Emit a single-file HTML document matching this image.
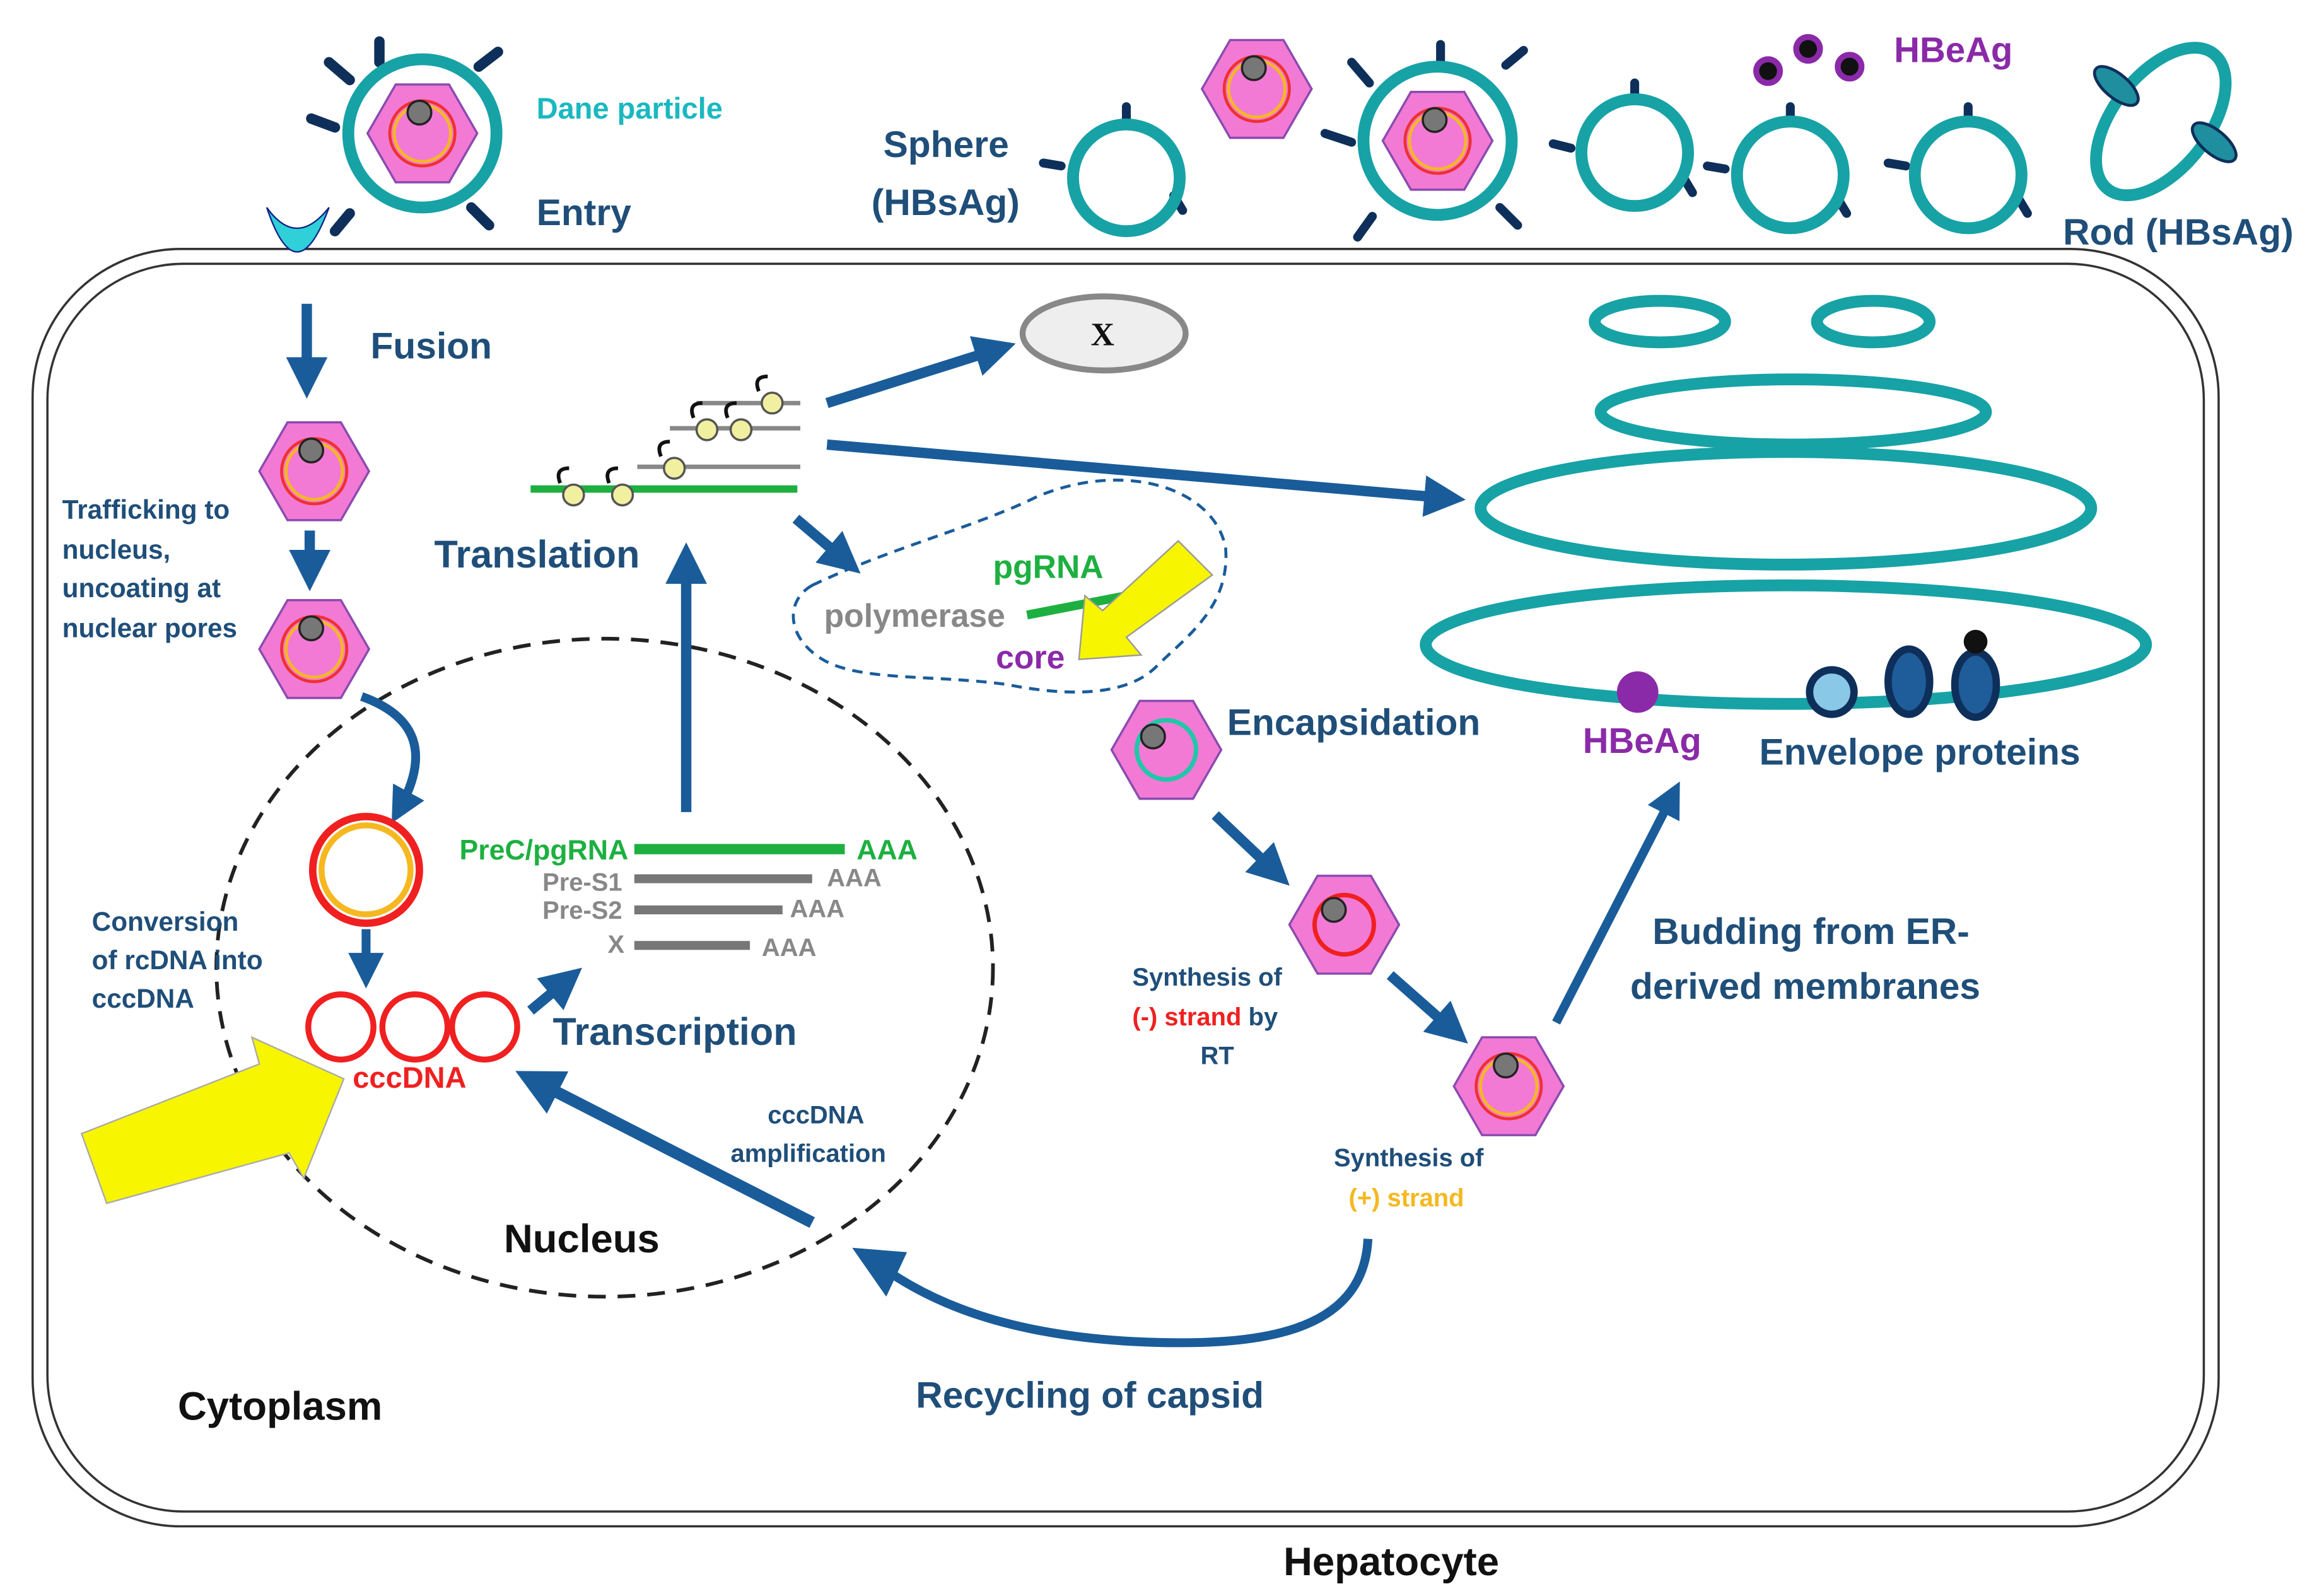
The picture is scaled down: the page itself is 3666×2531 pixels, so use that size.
<!DOCTYPE html>
<html><head><meta charset="utf-8"><style>
html,body{margin:0;padding:0;background:#fff}
svg{display:block}
text{font-family:"Liberation Sans Narrow","Liberation Sans",sans-serif;font-weight:bold}
</style></head><body>
<svg width="3666" height="2531" viewBox="0 0 1560 1077" preserveAspectRatio="none" xmlns="http://www.w3.org/2000/svg">
<defs>
<g id="hex"><polygon points="-37,0 -18,-33 18,-33 37,0 18,33 -18,33" fill="#f27ad4" stroke="#8a4bb0" stroke-width="1.5"/></g>
<g id="hexo"><use href="#hex"/><circle r="22" fill="none" stroke="#f03030" stroke-width="2"/><circle r="19" fill="none" stroke="#f5b820" stroke-width="2"/><circle cx="-2" cy="-14" r="8" fill="#777" stroke="#222" stroke-width="1.5"/></g>
<marker id="ah" markerWidth="4" markerHeight="4" refX="2" refY="2" orient="auto" markerUnits="strokeWidth"><path d="M0,0 L4,2 L0,4 z" fill="#1a5c9a"/></marker>
</defs>
<rect width="1560" height="1077" fill="#fff"/>
<!-- cell -->
<rect x="22" y="168" width="1475" height="862" rx="100" fill="none" stroke="#333" stroke-width="1.5"/>
<rect x="32" y="178" width="1455" height="842" rx="92" fill="none" stroke="#333" stroke-width="1.5"/>
<!-- nucleus -->
<ellipse cx="408" cy="653" rx="262" ry="222" fill="none" stroke="#222" stroke-width="2.5" stroke-dasharray="12,8"/>
<!-- entry cup -->
<path d="M180,140 Q200,200 222,140 Q200,168 180,140 z" fill="#2fd0d8" stroke="#128" stroke-width="1"/>
<!-- Dane particle top-left -->
<g stroke="#0e2f5a" stroke-width="7" stroke-linecap="round">
<line x1="256" y1="28" x2="256" y2="42"/><line x1="323" y1="45" x2="336" y2="35"/><line x1="210" y1="80" x2="226" y2="86"/><line x1="236" y1="144" x2="226" y2="156"/><line x1="318" y1="140" x2="330" y2="152"/><line x1="222" y1="42" x2="236" y2="54"/>
</g>
<circle cx="285" cy="90" r="50" fill="#fff" stroke="#17a2a6" stroke-width="8"/>
<use href="#hexo" x="285" y="90"/>
<text x="362" y="80" font-size="20" fill="#1ab8c0">Dane particle</text>
<text x="362" y="152" font-size="25" fill="#1f4e79">Entry</text>
<!-- top right particles -->
<text x="596" y="106" font-size="25" fill="#1f4e79">Sphere</text>
<text x="588" y="145" font-size="25" fill="#1f4e79">(HBsAg)</text>
<g stroke="#0e2f5a" stroke-width="6" stroke-linecap="round">
<line x1="760" y1="72" x2="760" y2="82"/><line x1="704" y1="110" x2="716" y2="112"/><line x1="792" y1="132" x2="798" y2="142"/>
<line x1="1103" y1="56" x2="1103" y2="66"/><line x1="1048" y1="97" x2="1060" y2="100"/><line x1="1136" y1="120" x2="1142" y2="130"/>
<line x1="1208" y1="72" x2="1208" y2="82"/><line x1="1152" y1="112" x2="1164" y2="114"/><line x1="1240" y1="134" x2="1246" y2="144"/>
<line x1="1328" y1="72" x2="1328" y2="82"/><line x1="1274" y1="110" x2="1286" y2="112"/><line x1="1362" y1="134" x2="1368" y2="144"/>
<line x1="972" y1="30" x2="972" y2="44"/><line x1="1016" y1="44" x2="1028" y2="34"/><line x1="894" y1="90" x2="912" y2="96"/><line x1="926" y1="146" x2="916" y2="160"/><line x1="1012" y1="140" x2="1024" y2="152"/><line x1="912" y1="42" x2="924" y2="56"/>
</g>
<circle cx="760" cy="120" r="36" fill="none" stroke="#17a2a6" stroke-width="8"/>
<circle cx="1103" cy="103" r="36" fill="none" stroke="#17a2a6" stroke-width="8"/>
<circle cx="1208" cy="118" r="36" fill="none" stroke="#17a2a6" stroke-width="8"/>
<circle cx="1328" cy="118" r="36" fill="none" stroke="#17a2a6" stroke-width="8"/>
<use href="#hexo" x="848" y="60"/>
<circle cx="970" cy="95" r="50" fill="#fff" stroke="#17a2a6" stroke-width="8"/>
<use href="#hexo" x="970" y="95"/>
<g fill="#111" stroke="#8a2aa8" stroke-width="4"><circle cx="1193" cy="48" r="8"/><circle cx="1220" cy="33" r="8"/><circle cx="1248" cy="45" r="8"/></g>
<text x="1278" y="42" font-size="24" fill="#8a2aa8">HBeAg</text>
<ellipse cx="1458" cy="82" rx="32" ry="58" transform="rotate(38 1458 82)" fill="none" stroke="#17a2a6" stroke-width="8"/>
<ellipse cx="1428" cy="58" rx="18" ry="8" transform="rotate(40 1428 58)" fill="#1f8fa0" stroke="#0e2f5a" stroke-width="2"/>
<ellipse cx="1494" cy="96" rx="18" ry="8" transform="rotate(40 1494 96)" fill="#1f8fa0" stroke="#0e2f5a" stroke-width="2"/>
<text x="1392" y="165" font-size="25" fill="#1f4e79">Rod (HBsAg)</text>
<!-- left column -->
<line x1="207" y1="205" x2="207" y2="255" stroke="#1a5c9a" stroke-width="7" marker-end="url(#ah)"/>
<text x="250" y="242" font-size="25" fill="#1f4e79">Fusion</text>
<use href="#hexo" x="212" y="318"/>
<line x1="209" y1="358" x2="209" y2="385" stroke="#1a5c9a" stroke-width="7" marker-end="url(#ah)"/>
<use href="#hexo" x="212" y="438"/>
<text font-size="18" fill="#1f4e79"><tspan x="42" y="350">Trafficking to</tspan><tspan x="42" y="377">nucleus,</tspan><tspan x="42" y="403">uncoating at</tspan><tspan x="42" y="430">nuclear pores</tspan></text>
<path d="M244,470 Q300,490 270,545" fill="none" stroke="#1a5c9a" stroke-width="6" marker-end="url(#ah)"/>
<circle cx="247" cy="587" r="36" fill="none" stroke="#f02020" stroke-width="5"/>
<circle cx="247" cy="587" r="30" fill="none" stroke="#f5b820" stroke-width="4"/>
<line x1="247" y1="627" x2="247" y2="655" stroke="#1a5c9a" stroke-width="6" marker-end="url(#ah)"/>
<circle cx="230" cy="693" r="22" fill="none" stroke="#f02020" stroke-width="4"/>
<circle cx="280" cy="693" r="22" fill="none" stroke="#f02020" stroke-width="4"/>
<circle cx="327" cy="693" r="22" fill="none" stroke="#f02020" stroke-width="4"/>
<text x="238" y="734" font-size="20" fill="#f02020">cccDNA</text>
<text font-size="18" fill="#1f4e79"><tspan x="62" y="628">Conversion</tspan><tspan x="62" y="654">of rcDNA into</tspan><tspan x="62" y="680">cccDNA</tspan></text>
<polygon points="55,765 175,718 170,700 232,728 205,795 195,778 72,812" fill="#f7f500" stroke="#aaa" stroke-width="1"/>
<line x1="358" y1="682" x2="382" y2="662" stroke="#1a5c9a" stroke-width="7" marker-end="url(#ah)"/>
<text x="373" y="705" font-size="26" fill="#1f4e79">Transcription</text>
<!-- transcripts -->
<text x="310" y="580" font-size="19" fill="#1db040">PreC/pgRNA</text>
<line x1="428" y1="573" x2="570" y2="573" stroke="#1db040" stroke-width="7"/>
<text x="578" y="580" font-size="19" fill="#1db040">AAA</text>
<g fill="#888" font-size="17"><text x="366" y="601">Pre-S1</text><text x="558" y="598">AAA</text><text x="366" y="620">Pre-S2</text><text x="533" y="619">AAA</text><text x="410" y="643">X</text><text x="514" y="645">AAA</text></g>
<g stroke="#777" stroke-width="6"><line x1="428" y1="593" x2="548" y2="593"/><line x1="428" y1="614" x2="528" y2="614"/><line x1="428" y1="638" x2="506" y2="638"/></g>
<line x1="463" y1="548" x2="463" y2="380" stroke="#1a5c9a" stroke-width="7" marker-end="url(#ah)"/>
<text x="293" y="383" font-size="26" fill="#1f4e79">Translation</text>
<!-- polysome -->
<line x1="358" y1="330" x2="538" y2="330" stroke="#1db040" stroke-width="5"/>
<g stroke="#888" stroke-width="3"><line x1="430" y1="315" x2="540" y2="315"/><line x1="452" y1="289" x2="540" y2="289"/><line x1="470" y1="272" x2="540" y2="272"/></g>
<g fill="#f0f0a0" stroke="#555" stroke-width="1.5"><circle cx="387" cy="334" r="7"/><circle cx="420" cy="334" r="7"/><circle cx="455" cy="316" r="7"/><circle cx="477" cy="290" r="7"/><circle cx="500" cy="290" r="7"/><circle cx="521" cy="272" r="7"/></g>
<g fill="none" stroke="#111" stroke-width="2.5"><path d="M378,326 q-4,-10 6,-10"/><path d="M411,326 q-4,-10 6,-10"/><path d="M446,308 q-4,-10 6,-10"/><path d="M468,282 q-4,-10 6,-10"/><path d="M491,282 q-4,-10 6,-10"/><path d="M512,264 q-4,-10 6,-10"/></g>
<line x1="558" y1="272" x2="672" y2="236" stroke="#1a5c9a" stroke-width="7" marker-end="url(#ah)"/>
<ellipse cx="745" cy="225" rx="55" ry="25" fill="#eee" stroke="#888" stroke-width="4"/>
<text x="736" y="233" font-size="22" fill="#111" style="font-family:'Liberation Serif',serif">X</text>
<line x1="558" y1="300" x2="975" y2="336" stroke="#1a5c9a" stroke-width="7" marker-end="url(#ah)"/>
<line x1="537" y1="350" x2="570" y2="378" stroke="#1a5c9a" stroke-width="7" marker-end="url(#ah)"/>
<!-- dashed blob -->
<path d="M548,395 C600,370 660,355 700,335 C760,310 820,330 827,370 C830,410 800,430 780,450 C760,470 720,470 680,462 C630,455 580,460 555,445 C530,430 530,405 548,395 z" fill="none" stroke="#1a5c9a" stroke-width="2" stroke-dasharray="7,5"/>
<text x="670" y="390" font-size="22" fill="#1db040">pgRNA</text>
<text x="556" y="423" font-size="22" fill="#888">polymerase</text>
<line x1="693" y1="415" x2="760" y2="402" stroke="#1db040" stroke-width="6"/>
<text x="672" y="451" font-size="22" fill="#8a2aa8">core</text>
<polygon points="795,365 818,388 760,430 770,442 728,445 732,402 744,412" fill="#f7f500" stroke="#999" stroke-width="1"/>
<!-- encapsidation path -->
<use href="#hex" x="787" y="506"/>
<circle cx="787" cy="506" r="20" fill="none" stroke="#1ec8a8" stroke-width="3"/>
<circle cx="778" cy="497" r="8" fill="#777" stroke="#222" stroke-width="1.5"/>
<text x="828" y="496" font-size="25" fill="#1f4e79">Encapsidation</text>
<line x1="820" y1="550" x2="860" y2="588" stroke="#1a5c9a" stroke-width="7" marker-end="url(#ah)"/>
<use href="#hex" x="907" y="624"/>
<circle cx="907" cy="624" r="20" fill="none" stroke="#f02020" stroke-width="3"/>
<circle cx="900" cy="614" r="8" fill="#777" stroke="#222" stroke-width="1.5"/>
<text font-size="17" fill="#1f4e79"><tspan x="764" y="665">Synthesis of</tspan><tspan x="764" y="692"><tspan fill="#f02020">(-) strand</tspan> by</tspan><tspan x="810" y="718">RT</tspan></text>
<line x1="938" y1="658" x2="980" y2="695" stroke="#1a5c9a" stroke-width="7" marker-end="url(#ah)"/>
<use href="#hexo" x="1018" y="733"/>
<text font-size="17" fill="#1f4e79"><tspan x="900" y="787">Synthesis of</tspan><tspan x="910" y="814" fill="#f5b820">(+) strand</tspan></text>
<line x1="1050" y1="690" x2="1128" y2="538" stroke="#1a5c9a" stroke-width="6" marker-end="url(#ah)"/>
<text x="1115" y="637" font-size="25" fill="#1f4e79">Budding from ER-</text>
<text x="1100" y="674" font-size="25" fill="#1f4e79">derived membranes</text>
<path d="M923,836 C920,900 850,910 760,905 C680,900 630,880 595,855" fill="none" stroke="#1a5c9a" stroke-width="6"/>
<polygon points="575,842 612,845 598,875" fill="#1a5c9a"/>
<text x="618" y="950" font-size="25" fill="#1f4e79">Recycling of capsid</text>
<line x1="548" y1="825" x2="362" y2="730" stroke="#1a5c9a" stroke-width="8" marker-end="url(#ah)"/>
<text font-size="17" fill="#1f4e79"><tspan x="518" y="758">cccDNA</tspan><tspan x="493" y="784">amplification</tspan></text>
<text x="340" y="845" font-size="27" fill="#111">Nucleus</text>
<text x="120" y="958" font-size="27" fill="#111">Cytoplasm</text>
<text x="866" y="1063" font-size="27" fill="#111">Hepatocyte</text>
<!-- ER -->
<g fill="none" stroke="#17a2a6" stroke-width="8">
<ellipse cx="1120" cy="217" rx="44" ry="14"/><ellipse cx="1264" cy="217" rx="38" ry="14"/>
<ellipse cx="1210" cy="278" rx="130" ry="22"/><ellipse cx="1205" cy="343" rx="206" ry="38"/><ellipse cx="1205" cy="435" rx="243" ry="40"/>
</g>
<circle cx="1105" cy="467" r="14" fill="#8a2aa8"/>
<circle cx="1236" cy="467" r="15" fill="#8ac8e8" stroke="#0e2f5a" stroke-width="5"/>
<ellipse cx="1288" cy="460" rx="14" ry="22" fill="#1f5c9a" stroke="#0e2f5a" stroke-width="5"/>
<ellipse cx="1333" cy="462" rx="14" ry="22" fill="#1f5c9a" stroke="#0e2f5a" stroke-width="5"/>
<circle cx="1333" cy="433" r="8" fill="#111"/>
<text x="1068" y="508" font-size="24" fill="#8a2aa8">HBeAg</text>
<text x="1187" y="516" font-size="25" fill="#1f4e79">Envelope proteins</text>
</svg>
</body></html>
